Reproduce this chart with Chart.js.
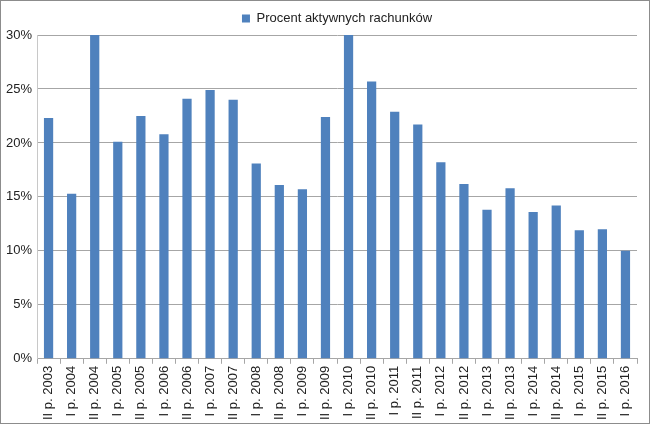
<!DOCTYPE html>
<html>
<head>
<meta charset="utf-8">
<script src="https://cdn.jsdelivr.net/npm/chart.js@4/dist/chart.umd.min.js"></script>
<style>
  html, body { margin: 0; padding: 0; background: #fff; }
  #wrap { width: 650px; height: 424px; box-sizing: border-box; border: 1px solid #8c8c8c; }
</style>
</head>
<body>
<div id="wrap"><canvas id="chart" width="648" height="422"></canvas></div>
<script>
const categories = ['II p. 2003', 'I p. 2004', 'II p. 2004', 'I p. 2005', 'II p. 2005', 'I p. 2006',
  'II p. 2006', 'I p. 2007', 'II p. 2007', 'I p. 2008', 'II p. 2008', 'I p. 2009', 'II p. 2009',
  'I p. 2010', 'II p. 2010', 'I p. 2011', 'II p. 2011', 'I p. 2012', 'II p. 2012', 'I p. 2013',
  'II p. 2013', 'I p. 2014', 'II p. 2014', 'I p. 2015', 'II p. 2015', 'I p. 2016'];
const activeShare = [22.3, 15.3, 30, 20.1, 22.5, 20.8, 24.1, 24.9, 24.0, 18.1, 16.1, 15.7, 22.4,
  30, 25.7, 22.9, 21.7, 18.2, 16.2, 13.8, 15.8, 13.6, 14.2, 11.9, 12.0, 10.0];
const seriesName = 'Procent aktywnych rachunków';

Chart.defaults.font.family = '"Liberation Sans", Arial, sans-serif';
Chart.defaults.font.size = 13;
Chart.defaults.color = '#222';

const ctx = document.getElementById('chart').getContext('2d');
new Chart(ctx, {
  type: 'bar',
  data: {
    labels: categories,
    datasets: [{
      label: seriesName,
      data: activeShare,
      backgroundColor: '#4f81bd',
      borderWidth: 0,
      barPercentage: 0.8,
      categoryPercentage: 0.5
    }]
  },
  options: {
    responsive: false,
    animation: false,
    layout: { padding: { left: 0, right: 12, top: 0, bottom: 1 } },
    plugins: {
      legend: {
        display: true,
        position: 'top',
        fullSize: false,
        labels: { boxWidth: 8, boxHeight: 8, padding: 11, font: { size: 13 } }
      },
      tooltip: { enabled: false }
    },
    scales: {
      x: {
        grid: { drawOnChartArea: false, color: '#a6a6a6', tickLength: 5, offset: true },
        border: { color: '#a6a6a6' },
        ticks: { maxRotation: 90, minRotation: 90, autoSkip: false, padding: 2 }
      },
      y: {
        min: 0,
        max: 30,
        ticks: { stepSize: 5, callback: v => v + '%', padding: 5 },
        grid: { color: '#a6a6a6', tickLength: 0 },
        border: { color: '#c8c8c8' }
      }
    }
  }
});
</script>
</body>
</html>
